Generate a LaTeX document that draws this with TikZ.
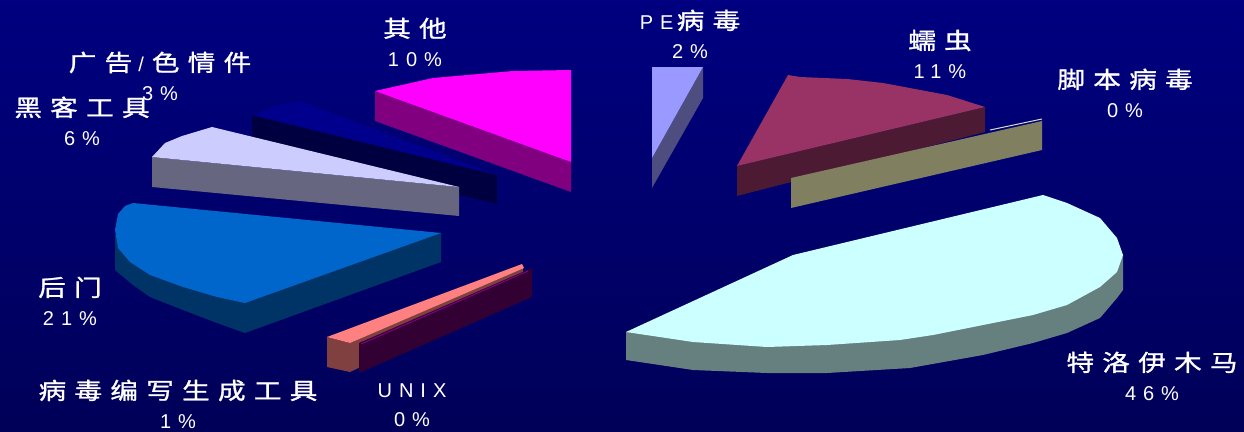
\documentclass[tikz,border=0pt]{standalone}
\usepackage{fontspec}
\setmainfont{Liberation Sans}[LetterSpace=35]
\newfontfamily\cjk{Noto Sans CJK SC}[FakeStretch=1.2,FakeBold=1.2,LetterSpace=36]
\newcommand{\zh}[1]{{\cjk\fontsize{23}{29}\selectfont #1}}

\definecolor{bgtop}{RGB}{0,0,128}
\definecolor{bgbot}{RGB}{0,0,88}
\definecolor{adTop}{RGB}{0,0,140}
\definecolor{adSide}{RGB}{0,0,64}
\definecolor{otherTop}{RGB}{255,0,255}
\definecolor{otherSide}{RGB}{128,0,128}
\definecolor{hackTop}{RGB}{204,204,255}
\definecolor{hackSide}{RGB}{102,102,128}
\definecolor{doorTop}{RGB}{0,102,204}
\definecolor{doorSide}{RGB}{0,51,102}
\definecolor{toolTop}{RGB}{255,128,128}
\definecolor{toolSide}{RGB}{128,64,64}
\definecolor{unixSide}{RGB}{51,0,51}
\definecolor{unixTop}{RGB}{128,0,128}
\definecolor{peTop}{RGB}{153,153,255}
\definecolor{peSide}{RGB}{77,77,128}
\definecolor{wormTop}{RGB}{153,51,102}
\definecolor{wormSide}{RGB}{77,26,51}
\definecolor{scriptSide}{RGB}{128,128,96}
\definecolor{scriptTop}{RGB}{220,220,204}
\definecolor{trojanTop}{RGB}{204,255,255}
\definecolor{trojanSide}{RGB}{102,128,128}

\begin{document}
\begin{tikzpicture}[x=1pt,y=-1pt,
    lbl/.style = {
      text = white,
      align = center,
      inner sep = 0pt,
      font = \fontsize{20}{29}\selectfont
    }
  ]
  \useasboundingbox (0,0) rectangle (1244,431);
  \shade[top color=bgtop,bottom color=bgbot] (0,0) rectangle (1244,431);

  % ad / porn 3%
  \fill[adSide] (252,115) -- (497,175) -- (497,204) -- (252,145) -- cycle;
  \fill[adTop] (252,115) -- (275,106) -- (300,101) -- (497,175) -- cycle;

  % other 10%
  \fill[otherSide] (375,91) -- (571,162) -- (571,192) -- (375,121) -- cycle;
  \fill[otherTop] (375,91) -- (433,78) -- (513,71) -- (571,70) -- (571,162) -- cycle;

  % hacker tools 6%
  \fill[hackSide] (152,157) -- (459,187) -- (459,216) -- (152,187) -- cycle;
  \fill[hackTop] (152,157) -- (165,143) -- (182,136) -- (212,127) -- (459,187) -- cycle;

  % backdoor 21%
  \fill[doorSide] (115,235) -- (115,270) -- (133,285) -- (150,297) -- (183,310)
    -- (217,323) -- (245,333) -- (441,262) -- (441,233) -- cycle;
  \fill[doorTop] (133,203) -- (441,233) -- (245,303) -- (217,297) -- (183,287)
    -- (150,275) -- (130,262) -- (118,248) -- (115,230) -- (118,214) -- (125,206) -- cycle;

  % virus tools 1%
  \fill[toolSide] (350,343) -- (523,266) -- (523,290) -- (350,372) -- cycle;
  \fill[toolSide] (327,337) -- (350,343) -- (350,372) -- (327,367) -- cycle;
  \fill[toolTop] (327,337) -- (522,264) -- (524,268) -- (350,343) -- cycle;

  % unix 0%
  \fill[unixSide] (359,343) -- (532,268) -- (532,297) -- (359,373) -- cycle;
  \draw[unixTop,line width=1pt] (361,344) -- (528,271);

  % PE virus 2%
  \fill[peSide] (703,67) -- (703,98) -- (652,188) -- (652,158) -- cycle;
  \fill[peTop] (652,67) -- (703,67) -- (652,158) -- cycle;

  % worm 11%
  \fill[wormSide] (737,166) -- (985,107) -- (985,132) -- (737,196) -- cycle;
  \fill[wormTop] (737,166) -- (788,75) -- (800,77) -- (847,79) -- (883,83)
    -- (947,95) -- (985,107) -- cycle;

  % script virus 0%
  \fill[scriptSide] (791,178) -- (1042,121) -- (1042,150) -- (791,208) -- cycle;
  \draw[scriptTop,line width=1pt] (990,130) -- (1042,119);

  % trojan 46%
  \fill[trojanSide] (626,332) -- (626,360) -- (693,370) -- (767,373) -- (827,373)
    -- (910,368) -- (983,355) -- (1033,343) -- (1067,333) -- (1100,318) -- (1117,298) -- (1123,290)
    -- (1123,255) -- cycle;
  \fill[trojanTop] (626,332) -- (793,255) -- (1043,195) -- (1067,203)
    -- (1100,218) -- (1117,238) -- (1123,255) -- (1117,272) -- (1100,287) -- (1067,305) -- (1033,315)
    -- (983,325) -- (933,335) -- (900,340) -- (827,345) -- (767,347) -- (693,342) -- cycle;

  \node[lbl] (other)    at (415,42)  {\zh{其他}\\10\%};
  \node[lbl] (pe)       at (690,34)  {PE\,\zh{病毒}\\2\%};
  \node[lbl] (worm)     at (940,54)  {\zh{蠕虫}\\11\%};
  \node[lbl] (script)   at (1125,93) {\zh{脚本病毒}\\0\%};
  \node[lbl] (ad)       at (160,76)  {\zh{广告}\hspace{6pt}/\hspace{8pt}\zh{色情件}\\3\%};
  \node[lbl] (hacker)   at (82,121)  {\zh{黑客工具}\\6\%};
  \node[lbl] (backdoor) at (70,301)  {\zh{后门}\\21\%};
  \node[lbl] (vtool)    at (178,404) {\zh{病毒编写生成工具}\\1\%};
  \node[lbl] (unix)     at (412,405) {UNIX\\0\%};
  \node[lbl] (trojan)   at (1152,376) {\zh{特洛伊木马}\\46\%};
\end{tikzpicture}
\end{document}
